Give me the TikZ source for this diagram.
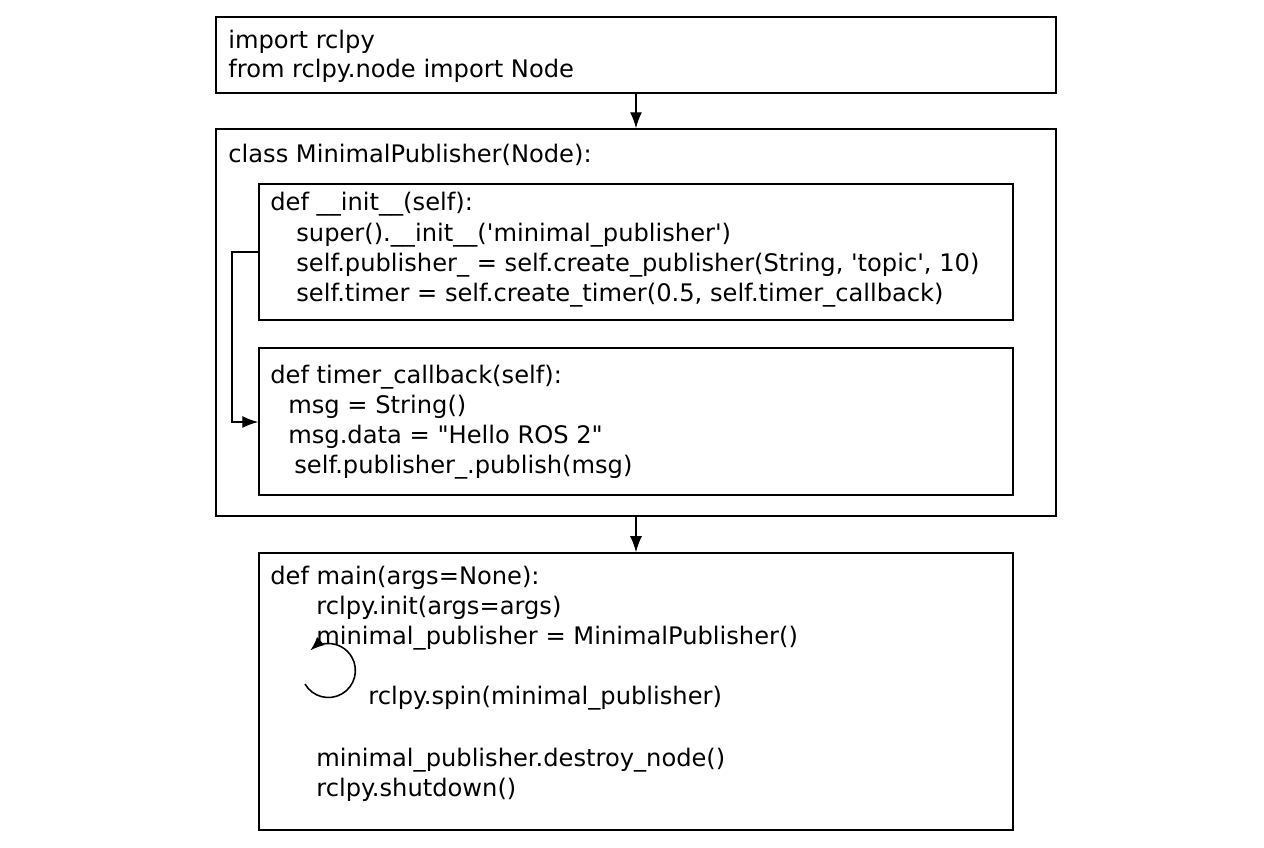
\documentclass[tikz,border=0pt]{standalone}
\usepackage{fontspec}
\setmainfont{DejaVu Sans}
\usetikzlibrary{arrows.meta}
\begin{document}
\begin{tikzpicture}[x=0.02cm,y=-0.02cm,
  box/.style={draw,line width=0.9pt,inner sep=0pt},
  t/.style={anchor=west,inner sep=0pt,font=\fontsize{13.75pt}{15pt}\selectfont},
  arr/.style={-{Latex[length=3.2mm,width=2.4mm]},line width=0.8pt}]
\useasboundingbox (0,0) rectangle (1264,848);
\node[box,minimum width=16.8cm,minimum height=1.52cm] (b1) at (636,55) {};
\node[box,minimum width=16.8cm,minimum height=7.74cm] (b2) at (636,322.5) {};
\node[box,minimum width=15.08cm,minimum height=2.72cm] (b3) at (636,252) {};
\node[box,minimum width=15.08cm,minimum height=2.94cm] (b4) at (636,421.5) {};
\node[box,minimum width=15.08cm,minimum height=5.54cm] (b5) at (636,691.5) {};
\node[t] (l1) at (228,42) {import rclpy};
\node[t] (l2) at (228,71) {from rclpy.node import Node};
\node[t] (l3) at (228,155) {class MinimalPublisher(Node):};
\node[t] (l4) at (270,204) {def \_\_init\_\_(self):};
\node[t] (l5) at (296,235) {super().\_\_init\_\_(\textquotesingle minimal\_publisher\textquotesingle)};
\node[t] (l6) at (296,265) {self.publisher\_ = self.create\_publisher(String, \textquotesingle topic\textquotesingle, 10)};
\node[t] (l7) at (296,295) {self.timer = self.create\_timer(0.5, self.timer\_callback)};
\node[t] (l8) at (270,377) {def timer\_callback(self):};
\node[t] (l9) at (288,407) {msg = String()};
\node[t] (l10) at (288,437) {msg.data = \textquotedbl Hello ROS 2\textquotedbl};
\node[t] (l11) at (294,467) {self.publisher\_.publish(msg)};
\node[t] (l12) at (270,578) {def main(args=None):};
\node[t] (l13) at (316,608) {rclpy.init(args=args)};
\node[t] (l14) at (316,638) {minimal\_publisher = MinimalPublisher()};
\node[t] (l15) at (368,698) {rclpy.spin(minimal\_publisher)};
\node[t] (l16) at (316,760) {minimal\_publisher.destroy\_node()};
\node[t] (l17) at (316,790) {rclpy.shutdown()};
\draw[arr] (b1.south) -- (b2.north);
\draw[arr] (b2.south) -- (b5.north);
\coordinate (c1) at (232,252);
\coordinate (c2) at (232,422);
\draw[arr] (b3.west) -- (c1) -- (c2) -- (b4.west|-c2);
\coordinate (s0) at (305,684);
\draw[line width=0.9pt,-{Latex[length=2.8mm,width=2.2mm]}] (s0) arc[start angle=-150,end angle=132,radius=0.54cm];
\end{tikzpicture}
\end{document}
